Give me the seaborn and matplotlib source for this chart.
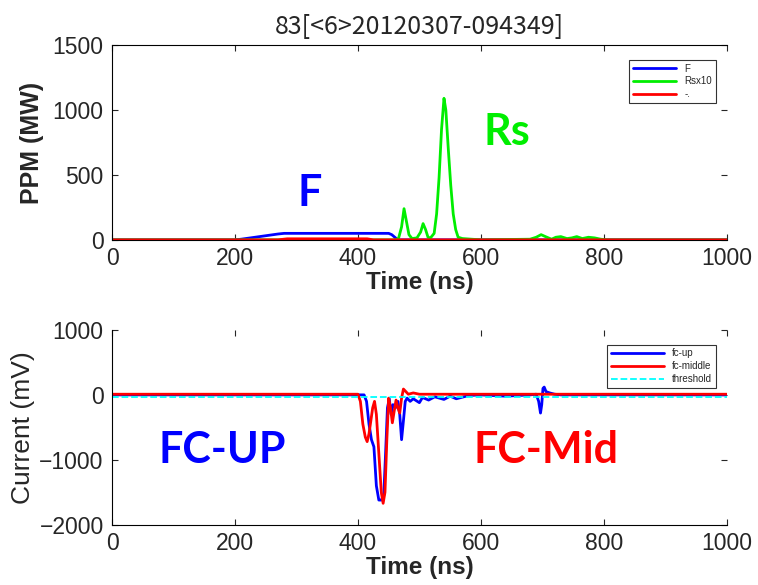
import matplotlib
matplotlib.use("Agg")
import matplotlib.pyplot as plt
import seaborn as sns
import pandas as pd

# ---------------- data ----------------
title_text = "83[<6>20120307-094349]"

f_time = [0, 200, 210, 225, 240, 255, 270, 280, 450, 455, 460, 465, 1000]
f_vals = [0, 0, 5, 15, 25, 35, 45, 50, 50, 40, 20, 0, 0]

rs_time = [0, 460, 466, 471, 475, 479, 483, 488, 496, 502, 506, 510, 514, 518,
           524, 528, 532, 536, 540, 543, 547, 551, 555, 559, 563, 570, 600,
           680, 690, 698, 705, 715, 722, 730, 740, 748, 756, 765, 775, 785, 795, 805, 1000]
rs_vals = [0, 0, 10, 100, 240, 140, 40, 10, 15, 60, 125, 80, 20, 15,
           50, 200, 480, 850, 1090, 1000, 700, 420, 200, 80, 20, 10, 0,
           5, 20, 40, 25, 5, 20, 25, 10, 15, 25, 10, 20, 15, 5, 0, 0]

ir_time = [0, 270, 285, 415, 425, 1000]
ir_vals = [0, 0, 8, 8, 0, 0]

fcup_time = [0, 410, 414, 418, 422, 426, 430, 434, 438, 442, 445, 448, 451, 454,
             457, 461, 465, 468, 471, 474, 477, 480, 485, 490, 500, 505, 515, 525,
             540, 550, 560, 580, 600, 640, 680, 690, 694, 697, 699, 701, 703, 706,
             712, 720, 730, 1000]
fcup_vals = [0, 0, -100, -450, -690, -800, -1400, -1620, -1620, -1550, -900, -200, -60, -300,
             -150, -200, -100, -300, -690, -400, -100, -50, -100, -60, -120, -40, -80, -30,
             -70, -20, -60, -10, 0, -20, 0, 10, -100, -280, -150, 100, 120, 50,
             30, 10, 0, 0]

fcmid_time = [0, 400, 404, 408, 412, 415, 418, 421, 424, 427, 430, 434, 438, 441, 444,
              447, 450, 453, 456, 459, 462, 465, 468, 471, 474, 477, 482, 490, 500, 1000]
fcmid_vals = [10, 10, -100, -450, -650, -720, -600, -400, -200, -100, -300, -900, -1500, -1670, -1500,
              -700, -50, -200, -430, -250, -80, -200, -280, -50, 90, 60, 10, 30, 10, 10]

thr_time = [0, 1000]
thr_vals = [-30, -30]

top_labels = ["F", "Rsx10", "-."]
bottom_labels = ["fc-up", "fc-middle", "threshold"]

# ---------------- style ----------------
sns.set_style("ticks")
plt.rcParams["font.family"] = ["Liberation Sans", "DejaVu Sans"]
plt.rcParams["xtick.direction"] = "in"
plt.rcParams["ytick.direction"] = "in"

fig = plt.figure(figsize=(7.58, 5.85), dpi=100)
ax1 = fig.add_axes([0.1478, 0.590, 0.811, 0.333])
ax2 = fig.add_axes([0.1478, 0.103, 0.811, 0.333])

lw = 2.0
sns.lineplot(x=f_time, y=f_vals, ax=ax1, color="#0000ff", lw=lw, label=top_labels[0],
             estimator=None, sort=False)
sns.lineplot(x=rs_time, y=rs_vals, ax=ax1, color="#00ee00", lw=lw, label=top_labels[1],
             estimator=None, sort=False)
sns.lineplot(x=ir_time, y=ir_vals, ax=ax1, color="#ff0000", lw=lw, label=top_labels[2],
             estimator=None, sort=False)

sns.lineplot(x=fcup_time, y=fcup_vals, ax=ax2, color="#0000ff", lw=lw, label=bottom_labels[0],
             estimator=None, sort=False)
sns.lineplot(x=fcmid_time, y=fcmid_vals, ax=ax2, color="#ff0000", lw=lw, label=bottom_labels[1],
             estimator=None, sort=False)
sns.lineplot(x=thr_time, y=thr_vals, ax=ax2, color="#00ffff", lw=1.3, label=bottom_labels[2],
             estimator=None, sort=False, linestyle="--")

tick_fs = 16.5
for ax in (ax1, ax2):
    ax.set_xlim(0, 1000)
    ax.set_xticks([0, 200, 400, 600, 800, 1000])
    ax.tick_params(axis="both", labelsize=tick_fs, length=4, width=0.8,
                   top=True, right=True)
    ax.tick_params(axis="x", pad=5)
    ax.tick_params(axis="y", pad=6)
    ax.set_xlabel("Time (ns)", fontsize=17.5, fontweight="bold", labelpad=1)
    for s in ax.spines.values():
        s.set_color("black")
        s.set_linewidth(0.8)
    ax.spines["right"].set_visible(False)

ax1.set_ylim(0, 1500)
ax1.set_yticks([0, 500, 1000, 1500])
ax1.set_ylabel("PPM (MW)", fontsize=18, fontweight="bold", labelpad=6)
ax1.set_title(title_text, fontsize=18, family=["Noto Sans CJK JP", "DejaVu Sans"], pad=8)

ax2.set_ylim(-2000, 1000)
ax2.set_yticks([-2000, -1000, 0, 1000])
ax2.set_yticklabels(["\u22122000", "\u22121000", "0", "1000"])
ax2.set_ylabel("Current (mV)", fontsize=19, labelpad=3)
ax2.spines["top"].set_visible(False)

leg_kw = dict(fontsize=7, frameon=True, fancybox=False, edgecolor="black",
              borderpad=0.4, labelspacing=0.3, loc="upper right")
l1 = ax1.legend(bbox_to_anchor=(0.99, 0.95), handlelength=4.5, **leg_kw)
l2 = ax2.legend(bbox_to_anchor=(0.99, 0.95), handlelength=5.5, **leg_kw)
for l in (l1, l2):
    l.get_frame().set_linewidth(0.8)

ann = dict(fontsize=31, fontweight="bold", family=["Lato", "DejaVu Sans"],
           ha="center", va="center")
ax1.text(322, 360, "F", color="#0000ff", **ann)
ax1.text(642, 830, "Rs", color="#00ee00", **ann)
ax2.text(180, -846, "FC-UP", color="#0000ff", **ann)
ax2.text(706, -846, "FC-Mid", color="#ff0000", **ann)

fig.savefig("out.png", dpi=100)
